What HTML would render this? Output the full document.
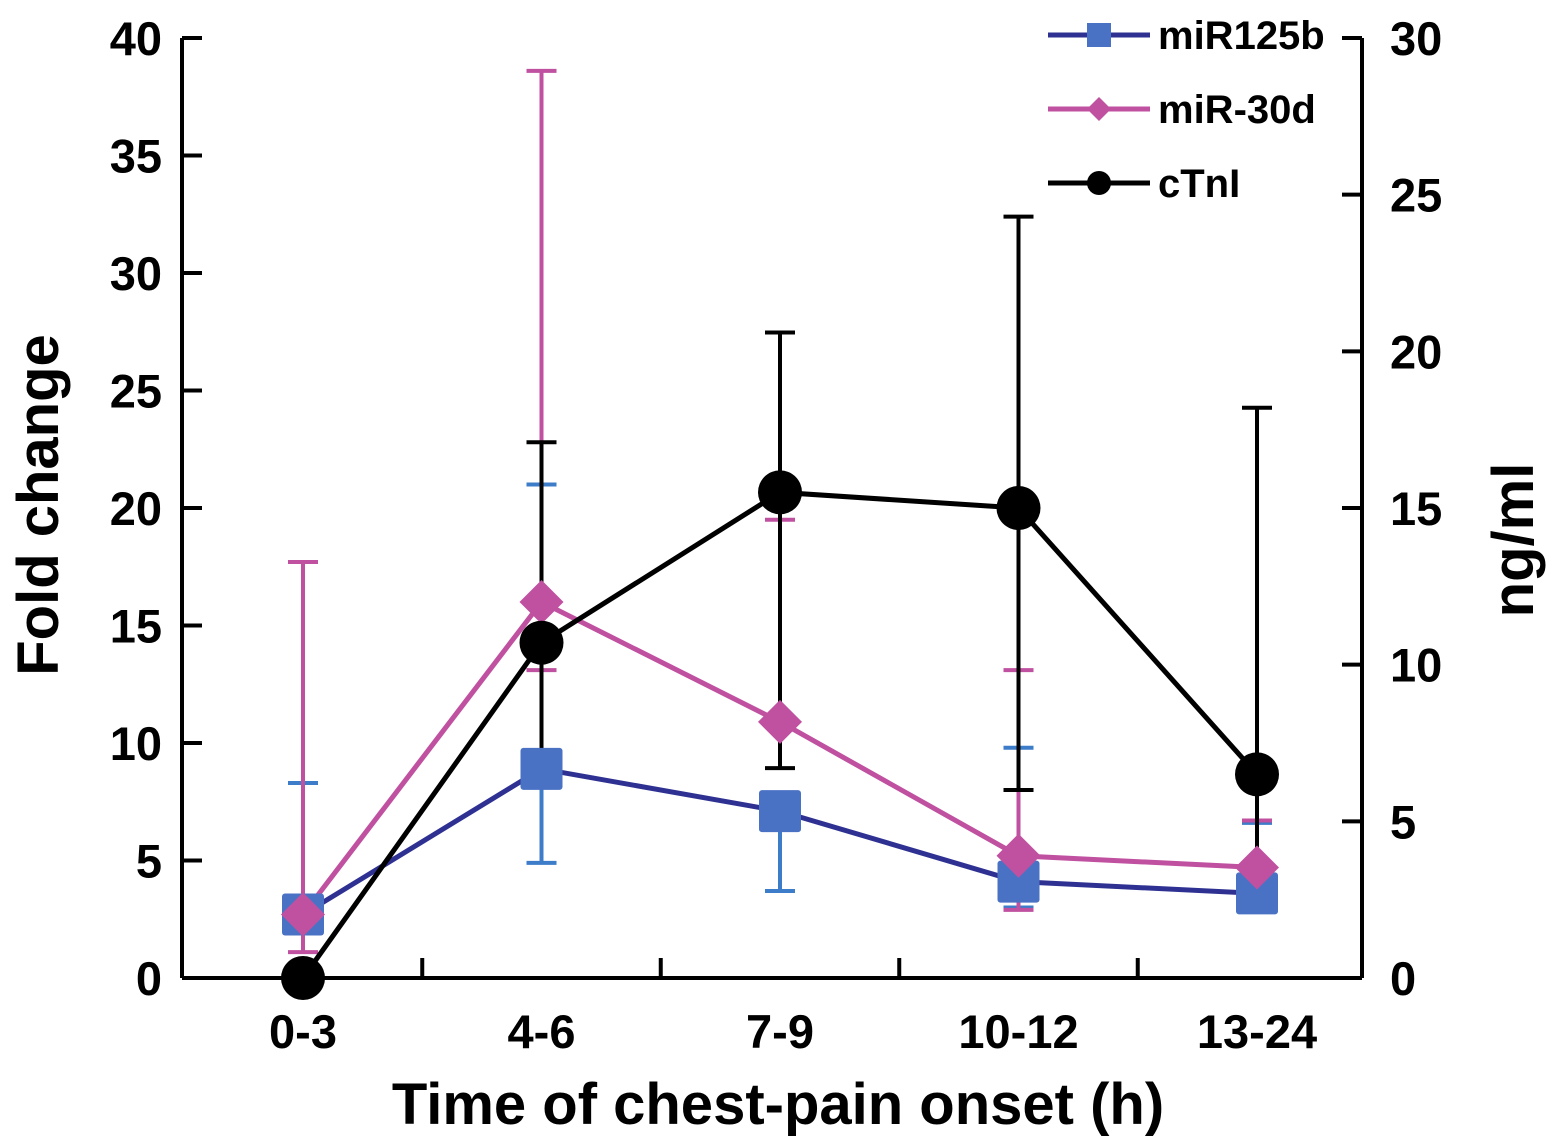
<!DOCTYPE html>
<html><head><meta charset="utf-8"><style>
body{margin:0;background:#fff}
svg{display:block;font-family:"Liberation Sans",Arial,sans-serif;font-weight:bold}
</style></head><body>
<svg id="chart" width="1559" height="1148"></svg>
<script>
const categories=["0-3","4-6","7-9","10-12","13-24"];
const mir125b=[2.7,8.9,7.1,4.1,3.6];
const mir125bHi=[8.3,21.0,7.1,9.8,6.6];
const mir125bLo=[2.7,4.9,3.7,3.0,3.6];
const mir30d=[2.7,16.0,10.9,5.2,4.7];
const mir30dHi=[17.7,38.6,19.5,13.1,6.7];
const mir30dLo=[1.1,13.1,10.9,2.9,4.7];
const ctni=[0,10.7,15.5,15.0,6.5];
const ctniHi=[0,17.1,20.6,24.3,18.2];
const ctniLo=[0,6.8,6.7,6.0,2.6];
const leftTicks=[0,5,10,15,20,25,30,35,40];
const rightTicks=[0,5,10,15,20,25,30];

const svg=document.getElementById('chart');
const NS='http://www.w3.org/2000/svg';
const X0=182,X1=1362,Y0=978,Y1=38;
const yL=v=>Y0-(v/40)*(Y0-Y1);
const yR=v=>Y0-(v/30)*(Y0-Y1);
const xC=i=>303+i*238.5;
function mk(t,a,p){const e=document.createElementNS(NS,t);for(const k in a)e.setAttribute(k,a[k]);(p||svg).appendChild(e);return e;}

let e;
e=mk('line',{x1:X0,y1:Y1,x2:X0,y2:Y0,stroke:'#000','stroke-width':4});


e=mk('line',{x1:X1,y1:Y1,x2:X1,y2:Y0,stroke:'#000','stroke-width':4});


e=mk('line',{x1:X0,y1:Y0,x2:X1,y2:Y0,stroke:'#000','stroke-width':4});



leftTicks.forEach(v=>{
  mk('line',{x1:X0,x2:X0+20,y1:yL(v),y2:yL(v),stroke:'#000','stroke-width':4});
  e=mk('text',{x:162,y:yL(v)+17,'text-anchor':'end','font-size':47});
  e.textContent=v;
  
  
});
rightTicks.forEach(v=>{
  mk('line',{x1:X1-20,x2:X1,y1:yR(v),y2:yR(v),stroke:'#000','stroke-width':4});
  e=mk('text',{x:1390,y:yR(v)+17,'text-anchor':'start','font-size':47});
  e.textContent=v;
  
  
});
for(let i=0;i<categories.length-1;i++){
  const x=(xC(i)+xC(i+1))/2;
  mk('line',{x1:x,x2:x,y1:Y0,y2:Y0-20,stroke:'#000','stroke-width':4});
}
categories.forEach((c,i)=>{
  e=mk('text',{x:xC(i),y:1048,'text-anchor':'middle','font-size':47});
  e.textContent=c;
  
  
});
e=mk('text',{x:778,y:1124,'text-anchor':'middle','font-size':58});
e.textContent='Time of chest-pain onset (h)';


e=mk('text',{x:0,y:0,'text-anchor':'middle','font-size':58,transform:'translate(58,505) rotate(-90)'});
e.textContent='Fold change';


e=mk('text',{x:0,y:0,'text-anchor':'middle','font-size':58,transform:'translate(1533,540) rotate(-90)'});
e.textContent='ng/ml';



function errs(vals,hi,lo,ys,col){
  vals.forEach((v,i)=>{
    const x=xC(i);
    if(hi[i]>v){mk('line',{x1:x,x2:x,y1:ys(v),y2:ys(hi[i]),stroke:col,'stroke-width':4});mk('line',{x1:x-15,x2:x+15,y1:ys(hi[i]),y2:ys(hi[i]),stroke:col,'stroke-width':4});}
    if(lo[i]<v){mk('line',{x1:x,x2:x,y1:ys(v),y2:ys(lo[i]),stroke:col,'stroke-width':4});mk('line',{x1:x-15,x2:x+15,y1:ys(lo[i]),y2:ys(lo[i]),stroke:col,'stroke-width':4});}
  });
}
function series(vals,ys,col,name){
  const pts=vals.map((v,i)=>xC(i)+','+ys(v)).join(' ');
  e=mk('polyline',{points:pts,fill:'none',stroke:col,'stroke-width':5});
  
  
}
errs(mir125b,mir125bHi,mir125bLo,yL,'#3d7cc9');
errs(mir30d,mir30dHi,mir30dLo,yL,'#c050a0');
errs(ctni,ctniHi,ctniLo,yR,'#000');
series(mir125b,yL,'#2e3192','mir125b');
series(mir30d,yL,'#c050a0','mir30d');
series(ctni,yR,'#000','ctni');
mir125b.forEach((v,i)=>{
  e=mk('rect',{x:xC(i)-21,y:yL(v)-21,width:42,height:42,rx:3,fill:'#4a72c4'});
  
  
});
mir30d.forEach((v,i)=>{
  const x=xC(i),y=yL(v);
  e=mk('polygon',{points:`${x},${y-22} ${x+22},${y} ${x},${y+22} ${x-22},${y}`,fill:'#c050a0'});
  
  
});
ctni.forEach((v,i)=>{
  e=mk('circle',{cx:xC(i),cy:yR(v),r:22,fill:'#000'});
  
  
});

const leg=[['miR125b','#2e3192','sq'],['miR-30d','#c050a0','di'],['cTnI','#000','ci']];
leg.forEach((l,k)=>{
  const y=35+k*74;
  const g=mk('g',{});
  
  
  mk('line',{x1:1048,x2:1150,y1:y,y2:y,stroke:l[1],'stroke-width':5},g);
  if(l[2]==='sq')mk('rect',{x:1087,y:y-12,width:24,height:24,fill:'#4a72c4'},g);
  if(l[2]==='di')mk('polygon',{points:`1099,${y-12} 1111,${y} 1099,${y+12} 1087,${y}`,fill:'#c050a0'},g);
  if(l[2]==='ci')mk('circle',{cx:1099,cy:y,r:12,fill:'#000'},g);
  const t=mk('text',{x:1158,y:y+14,'font-size':40},g);
  t.textContent=l[0];
});
</script>
</body></html>
